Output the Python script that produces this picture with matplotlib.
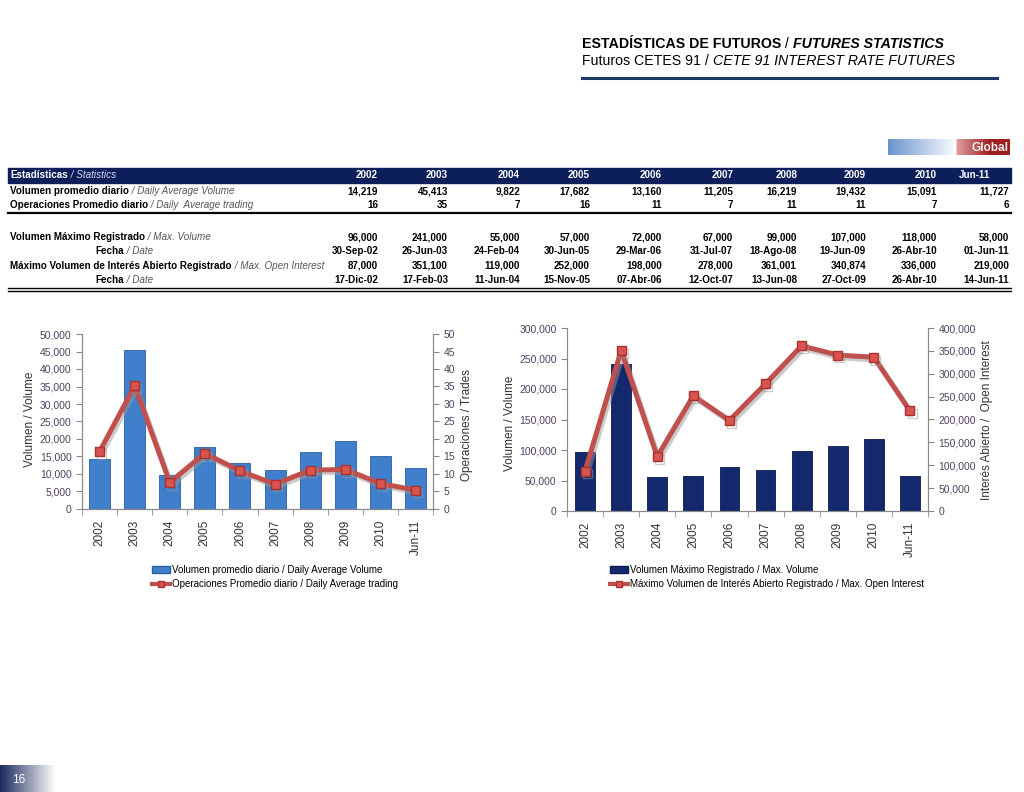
import matplotlib
matplotlib.use("Agg")
import matplotlib.pyplot as plt
import matplotlib.patheffects as pe
from matplotlib.lines import Line2D
from matplotlib.patches import Rectangle, Patch
from matplotlib.ticker import FuncFormatter, MultipleLocator
import numpy as np

years = ["2002", "2003", "2004", "2005", "2006", "2007", "2008", "2009", "2010", "Jun-11"]

# table values
avg_volume = [14219, 45413, 9822, 17682, 13160, 11205, 16219, 19432, 15091, 11727]
avg_trades = [16, 35, 7, 16, 11, 7, 11, 11, 7, 6]
max_volume = [96000, 241000, 55000, 57000, 72000, 67000, 99000, 107000, 118000, 58000]
max_volume_date = ["30-Sep-02", "26-Jun-03", "24-Feb-04", "30-Jun-05", "29-Mar-06",
                   "31-Jul-07", "18-Ago-08", "19-Jun-09", "26-Abr-10", "01-Jun-11"]
max_oi = [87000, 351100, 119000, 252000, 198000, 278000, 361001, 340874, 336000, 219000]
max_oi_date = ["17-Dic-02", "17-Feb-03", "11-Jun-04", "15-Nov-05", "07-Abr-06",
               "12-Oct-07", "13-Jun-08", "27-Oct-09", "26-Abr-10", "14-Jun-11"]

# trades line as drawn in the chart (unrounded)
trades_line = [16.4, 35.2, 7.6, 15.9, 10.9, 7.1, 11.1, 11.3, 7.3, 5.4]

NARROW = ["Liberation Sans Narrow", "Liberation Sans", "DejaVu Sans"]
SANS = ["Liberation Sans", "DejaVu Sans"]
plt.rcParams["font.family"] = SANS

W, H = 1024, 792
TS = 7.1  # table font size
fig = plt.figure(figsize=(W / 100, H / 100), dpi=100)
fig.patch.set_facecolor("white")
renderer = fig.canvas.get_renderer()


def px(x, y):
    return x / W, 1 - y / H


def two_part(x, y, first, second, color1="black", color2="#555555", size=TS):
    # bold part followed by " / italic part"
    t1 = fig.text(*px(x, y), first, fontsize=size, fontweight="bold", color=color1,
                  family=NARROW, va="center", ha="left")
    bb = t1.get_window_extent(renderer)
    fig.text(bb.x1 / W, 1 - y / H, " / " + second, fontsize=size, style="italic",
             color=color2, family=NARROW, va="center", ha="left")


# -------------------------
# HEADER
# -------------------------
HS = 10.2
t = fig.text(*px(582, 44), "ESTADÍSTICAS DE FUTUROS", fontsize=HS, fontweight="bold", va="center")
bb = t.get_window_extent(renderer)
t = fig.text(bb.x1 / W, 1 - 44 / H, " / ", fontsize=HS, va="center")
bb = t.get_window_extent(renderer)
fig.text(bb.x1 / W, 1 - 44 / H, "FUTURES STATISTICS", fontsize=HS, fontweight="bold",
         style="italic", va="center")
t = fig.text(*px(582, 61), "Futuros CETES 91 / ", fontsize=HS, va="center")
bb = t.get_window_extent(renderer)
fig.text(bb.x1 / W, 1 - 61 / H, "CETE 91 INTEREST RATE FUTURES", fontsize=HS,
         style="italic", va="center")
fig.add_artist(Line2D([582 / W, 997 / W], [1 - 78 / H, 1 - 78 / H], color="#1f3864", lw=2.2))

# Global logo
logo = fig.add_axes([888 / W, 1 - 155 / H, 122 / W, 16 / H])
n = 244
grad = np.ones((1, n, 3))
for i in range(n):
    f = i / n
    if f < 0.54:
        g = f / 0.54
        c0, c1 = np.array([0.42, 0.58, 0.80]), np.array([0.97, 0.98, 1.0])
        grad[0, i] = c0 + (c1 - c0) * g
    elif f < 0.56:
        grad[0, i] = [1, 1, 1]
    else:
        g = (f - 0.56) / 0.44
        c0, c1 = np.array([0.88, 0.62, 0.62]), np.array([0.62, 0.12, 0.12])
        grad[0, i] = c0 + (c1 - c0) * min(1, g * 1.6)
logo.imshow(grad, aspect="auto", extent=[0, 1, 0, 1])
logo.text(0.99, 0.42, "Global", color="#f0f0f0", fontsize=8.5, fontweight="bold",
          ha="right", va="center", family=NARROW)
logo.axis("off")

# -------------------------
# TABLE
# -------------------------
col_x = [378, 448, 520, 590, 662, 733, 797, 866, 937, 1009]
fig.add_artist(Rectangle(px(8, 183), 1003 / W, 15 / H, color="#0c1f5b", transform=fig.transFigure))
two_part(10, 175.5, "Estadísticas", "Statistics", color1="white", color2="#d8dcef")
for i, yr in enumerate(years):
    xx = col_x[i] if yr != "Jun-11" else 990
    fig.text(*px(xx, 175.5), yr, fontsize=TS, fontweight="bold", color="white",
             family=NARROW, ha="right", va="center")

rows = [
    (191, "Volumen promedio diario", "Daily Average Volume", [f"{v:,}" for v in avg_volume], 10),
    (205, "Operaciones Promedio diario", "Daily  Average trading", [str(v) for v in avg_trades], 10),
    (237, "Volumen Máximo Registrado", "Max. Volume", [f"{v:,}" for v in max_volume], 10),
    (251, "Fecha", "Date", max_volume_date, 95),
    (266, "Máximo Volumen de Interés Abierto Registrado", "Max. Open Interest",
     [f"{v:,}" for v in max_oi], 10),
    (280, "Fecha", "Date", max_oi_date, 95),
]
for y, lab, lab_en, vals, lx in rows:
    two_part(lx, y, lab, lab_en)
    for i, v in enumerate(vals):
        fig.text(*px(col_x[i], y), v, fontsize=TS, fontweight="bold", family=NARROW,
                 ha="right", va="center")

fig.add_artist(Line2D([8 / W, 1011 / W], [1 - 213 / H] * 2, color="black", lw=1.6))
fig.add_artist(Line2D([8 / W, 1011 / W], [1 - 288 / H] * 2, color="black", lw=1.0))
fig.add_artist(Line2D([8 / W, 1011 / W], [1 - 290.5 / H] * 2, color="black", lw=1.0))

# -------------------------
# CHARTS
# -------------------------
TICK_C = "#4f4060"
LINE_C = "#c0504d"
x = np.arange(len(years))
thousands = FuncFormatter(lambda v, p: f"{int(v):,}")
shadow = [pe.SimpleLineShadow(offset=(1.5, -2), shadow_color="#999999", alpha=0.5), pe.Normal()]


def style_axes(ax, ax2):
    for a in (ax, ax2):
        for s in a.spines.values():
            s.set_color("#8a8a8a")
        a.spines["top"].set_visible(False)
        a.tick_params(axis="y", colors=TICK_C, labelsize=7.5, length=4, width=0.8, color="#8a8a8a")
    ax.set_xlim(-0.5, len(years) - 0.5)
    ax.set_xticks(x)
    ax.set_xticklabels(years, rotation=90, fontsize=8.5, color="#333333")
    ax.tick_params(axis="x", length=0, pad=8)
    ax.set_xticks(np.arange(-0.5, len(years)), minor=True)
    ax.tick_params(axis="x", which="minor", length=4, color="#8a8a8a")


# left chart
ax1 = fig.add_axes([82 / W, 1 - 509 / H, 351 / W, 175 / H])
ax1b = ax1.twinx()
ax1.bar(x, avg_volume, width=0.6, color="#3f7fcc", edgecolor="#2c5f9e", linewidth=0.6, zorder=2)
ax1b.plot(x, trades_line, color=LINE_C, lw=3.6, marker="s", markersize=6.5,
          markerfacecolor="#d9534f", markeredgecolor="#a8322f", path_effects=shadow)
ax1.set_ylim(0, 50000)
ax1.yaxis.set_major_locator(MultipleLocator(5000))
ax1.yaxis.set_major_formatter(thousands)
ax1b.set_ylim(0, 50)
ax1b.yaxis.set_major_locator(MultipleLocator(5))
style_axes(ax1, ax1b)
fig.text(*px(30, 419), "Volumen / Volume", rotation=90, fontsize=8.5, color="#333333",
         ha="center", va="center")
fig.text(*px(467, 425), "Operaciones / Trades", rotation=90, fontsize=8.5, color="#333333",
         ha="center", va="center")
fig.legend([Patch(facecolor="#3f7fcc", edgecolor="#2c5f9e"),
            Line2D([], [], color=LINE_C, lw=3, marker="s", markersize=5,
                   markerfacecolor="#d9534f", markeredgecolor="#a8322f")],
           ["Volumen promedio diario / Daily Average Volume",
            "Operaciones Promedio diario / Daily Average trading"],
           loc="upper left", bbox_to_anchor=px(152, 565), frameon=False, borderpad=0,
           borderaxespad=0, handlelength=1.9, handleheight=0.6, handletextpad=0.15,
           labelspacing=0.45, prop={"family": NARROW, "size": 7})

# right chart
ax2 = fig.add_axes([567 / W, 1 - 511 / H, 361 / W, 183 / H])
ax2b = ax2.twinx()
ax2.bar(x, max_volume, width=0.55, color="#14286e", edgecolor="#0b1a4f", linewidth=0.6, zorder=2)
ax2b.plot(x, max_oi, color=LINE_C, lw=3.6, marker="s", markersize=6.5,
          markerfacecolor="#d9534f", markeredgecolor="#a8322f", path_effects=shadow)
ax2.set_ylim(0, 300000)
ax2.yaxis.set_major_locator(MultipleLocator(50000))
ax2.yaxis.set_major_formatter(thousands)
ax2b.set_ylim(0, 400000)
ax2b.yaxis.set_major_locator(MultipleLocator(50000))
ax2b.yaxis.set_major_formatter(thousands)
style_axes(ax2, ax2b)
fig.text(*px(510, 423), "Volumen / Volume", rotation=90, fontsize=8.5, color="#333333",
         ha="center", va="center")
fig.text(*px(987, 420), "Interés Abierto /  Open Interest", rotation=90, fontsize=8.5,
         color="#333333", ha="center", va="center")
fig.legend([Patch(facecolor="#14286e", edgecolor="#0b1a4f"),
            Line2D([], [], color=LINE_C, lw=3, marker="s", markersize=5,
                   markerfacecolor="#d9534f", markeredgecolor="#a8322f")],
           ["Volumen Máximo Registrado / Max. Volume",
            "Máximo Volumen de Interés Abierto Registrado / Max. Open Interest"],
           loc="upper left", bbox_to_anchor=px(610, 565), frameon=False, borderpad=0,
           borderaxespad=0, handlelength=1.9, handleheight=0.6, handletextpad=0.15,
           labelspacing=0.45, prop={"family": NARROW, "size": 7})

# -------------------------
# PAGE NUMBER
# -------------------------
pg = fig.add_axes([0, 0, 70 / W, 27 / H])
pgrad = np.ones((1, 140, 3))
for i in range(140):
    f = min(1, i / 110)
    c0, c1 = np.array([0.10, 0.16, 0.36]), np.array([1.0, 1.0, 1.0])
    pgrad[0, i] = c0 + (c1 - c0) * f
pg.imshow(pgrad, aspect="auto", extent=[0, 1, 0, 1])
pg.text(0.26, 0.45, "16", color="white", fontsize=8.5, ha="center", va="center")
pg.axis("off")

fig.savefig("out.png", dpi=100)
